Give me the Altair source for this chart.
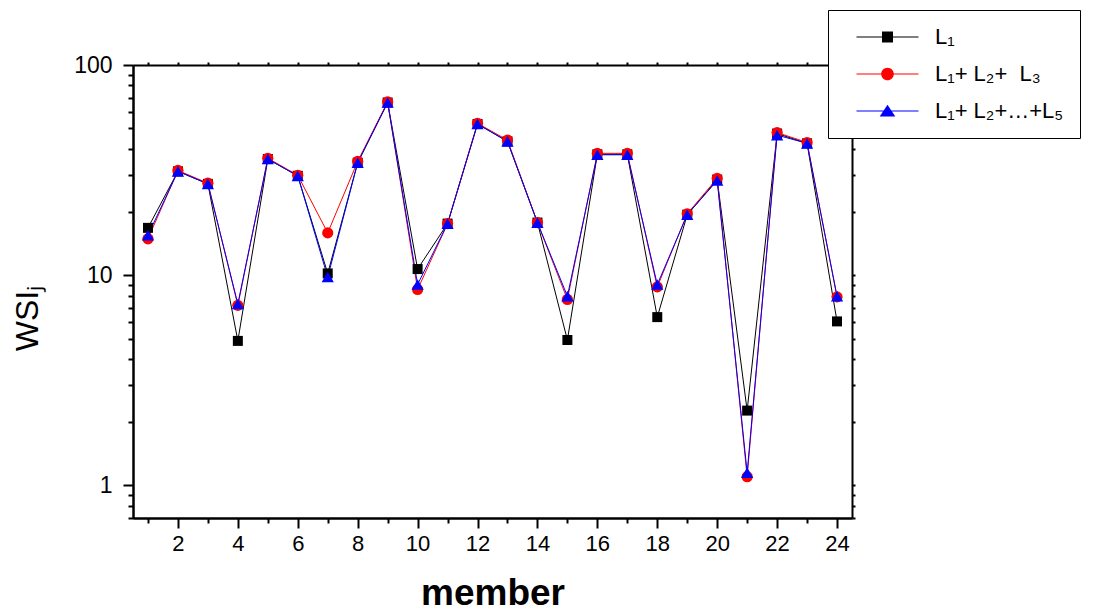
import altair as alt
import pandas as pd

# ---------------- data ----------------
members = list(range(1, 25))
series_names = ["L₁", "L₁+ L₂+ \u00a0L₃", "L₁+ L₂+…+L₅"]

wsi_l1 = [16.8, 31.2, 27.2, 4.87, 35.7, 29.7, 10.2, 34.3, 66.3, 10.7, 17.6, 52.4,
          43.3, 17.8, 4.92, 37.6, 37.6, 6.32, 19.4, 28.5, 2.27, 47.2, 42.4, 6.03]
wsi_l123 = [14.9, 31.5, 27.4, 7.19, 36.0, 29.9, 15.9, 34.8, 66.8, 8.55, 17.6, 52.8,
            43.9, 17.8, 7.67, 38.0, 38.0, 8.8, 19.6, 28.9, 1.10, 47.7, 42.8, 7.89]
wsi_l12345 = [15.5, 31.2, 27.2, 7.3, 35.7, 29.7, 9.8, 34.3, 66.3, 9.03, 17.6, 52.4,
              43.3, 17.8, 7.95, 37.4, 37.4, 9.03, 19.4, 28.2, 1.15, 46.4, 42.4, 7.95]

colors = ["#000000", "#ff0000", "#0000ff"]
marker_shapes = ["square", "circle", "triangle-up"]
marker_sizes = [100, 150, 200]
legend_symbols = [
    "M-3.1,-0.05H3.1V0.05H-3.1Z M-0.55,-0.55H0.55V0.55H-0.55Z",
    "M-3.1,-0.05H3.1V0.05H-3.1Z M-0.63,0A0.63,0.63,0,1,1,0.63,0A0.63,0.63,0,1,1,-0.63,0Z",
    "M-3.1,-0.05H3.1V0.05H-3.1Z M0,-0.62L0.78,0.56L-0.78,0.56Z",
]

x_major = list(range(2, 25, 2))
x_minor = list(range(1, 24, 2))
y_major = [1, 10, 100]
y_minor = [0.7, 0.8, 0.9, 2, 3, 4, 5, 6, 7, 8, 9, 20, 30, 40, 50, 60, 70, 80, 90]
y_all = sorted(y_major + y_minor)

rows = []
for name, vals in zip(series_names, [wsi_l1, wsi_l123, wsi_l12345]):
    for m, v in zip(members, vals):
        rows.append({"member": m, "wsi": v, "series": name})
df = pd.DataFrame(rows)

FONT = "Liberation Sans"

x_scale = alt.Scale(domain=[0.5, 24.5], nice=False, zero=False)
y_scale = alt.Scale(type="log", domain=[0.7, 100], nice=False)
color_scale = alt.Scale(domain=series_names, range=colors)

# ---------------- axes ----------------
x_major_axis = alt.Axis(orient="bottom", values=x_major, format="d", tickSize=10,
                        labelPadding=5, labelFontSize=22, labelOverlap=False, labelFlush=False,
                        title="member", titleFontSize=37, titleFontWeight="bold",
                        titleBaseline="alphabetic", titleY=86)
x_minor_axis = alt.Axis(orient="bottom", values=x_minor, tickSize=5, labels=False, title=None)
x_top_axis = alt.Axis(orient="top", values=members, tickSize=3, labels=False, title=None)

y_major_axis = alt.Axis(orient="left", values=y_major, format="d", tickSize=10,
                        labelPadding=11, labelFontSize=23, labelOverlap=False, labelFlush=False,
                        title="WSIⱼ", titleFontSize=32, titleFontWeight="normal",
                        titleAngle=270, titleAlign="center", titleBaseline="alphabetic",
                        titleX=-96, titleY=253)
y_minor_axis = alt.Axis(orient="left", values=y_minor, tickSize=5, labels=False, title=None)
y_right_axis = alt.Axis(orient="right", values=y_all, tickSize=3, labels=False, title=None)


def line_layer(name, x_axis, y_axis):
    return alt.Chart(df).transform_filter(alt.datum.series == name).mark_line(
        strokeWidth=1
    ).encode(
        x=alt.X("member:Q", scale=x_scale, axis=x_axis),
        y=alt.Y("wsi:Q", scale=y_scale, axis=y_axis),
        color=alt.Color("series:N", scale=color_scale, legend=None),
    )


line_black = line_layer(series_names[0], x_major_axis, y_major_axis)
line_red = line_layer(series_names[1], x_minor_axis, y_minor_axis)
line_blue = line_layer(series_names[2], x_top_axis, y_right_axis)

points = alt.Chart(df).mark_point(filled=True, opacity=1, strokeWidth=0).encode(
    x=alt.X("member:Q", scale=x_scale, axis=None),
    y=alt.Y("wsi:Q", scale=y_scale, axis=None),
    color=alt.Color("series:N", scale=color_scale, legend=None),
    shape=alt.Shape("series:N", scale=alt.Scale(domain=series_names, range=marker_shapes), legend=None),
    size=alt.Size("series:N", scale=alt.Scale(domain=series_names, range=marker_sizes), legend=None),
)

legend_def = alt.Legend(
    orient="none", legendX=695, legendY=-55, padding=16,
    strokeColor="black", fillColor="white", cornerRadius=0,
    symbolSize=400, symbolStrokeWidth=0, symbolOpacity=1, symbolOffset=32.5,
    labelOffset=36.5, labelFontSize=22, labelFont=FONT, labelColor="black", labelLimit=400,
    rowPadding=15, title=None, zindex=2,
)

legend_layer = alt.Chart(df).mark_point(filled=True, opacity=0, size=400).encode(
    x=alt.X("member:Q", scale=x_scale, axis=None),
    y=alt.Y("wsi:Q", scale=y_scale, axis=None),
    color=alt.Color("series:N", scale=color_scale, legend=legend_def),
    shape=alt.Shape("series:N", scale=alt.Scale(domain=series_names, range=legend_symbols),
                    legend=legend_def),
)

chart = alt.layer(line_black, line_red, line_blue, points, legend_layer).resolve_axis(
    x="independent", y="independent"
).resolve_scale(
    color="independent", shape="independent"
).properties(
    width=719, height=453,
    padding={"left": 133, "top": 65, "right": 244, "bottom": 96},
    autosize=alt.AutoSizeParams(type="none"),
    background="white",
).configure_view(
    strokeWidth=0
).configure_axis(
    domainColor="black", domainWidth=2, tickColor="black", tickWidth=2,
    labelColor="black", titleColor="black", grid=False, labelFont=FONT, titleFont=FONT,
)

chart.save("out.html", embed_options={"renderer": "svg", "actions": False})
